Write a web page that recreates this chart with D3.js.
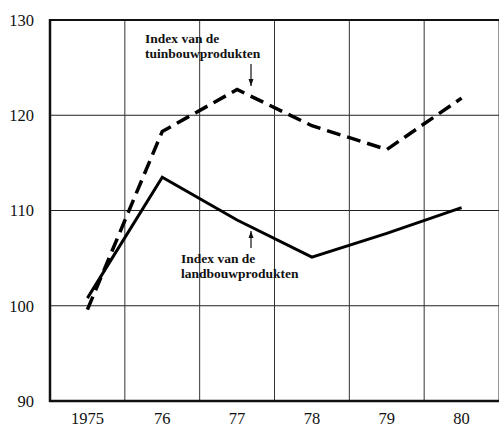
<!DOCTYPE html>
<html><head><meta charset="utf-8">
<script src="https://cdn.jsdelivr.net/npm/d3@7"></script>
<style>
html,body{margin:0;padding:0;background:#fff;}
svg{display:block;}
text{font-family:"Liberation Serif","Times New Roman",serif;fill:#111;}
</style></head>
<body>
<script>
const years = ["1975","76","77","78","79","80"];
const yTicks = [90,100,110,120,130];
const landbouw = [100.8,113.5,109.0,105.1,107.6,110.3];
const tuinbouw = [99.6,118.3,122.7,118.9,116.4,121.8];
const labelTuin = ["Index van de","tuinbouwprodukten"];
const labelLand = ["Index van de","landbouwprodukten"];

const W=499,H=427;
const svg=d3.select("body").append("svg").attr("width",W).attr("height",H);
const x=d3.scaleBand().domain(years).range([50,499]).paddingInner(0).paddingOuter(0);
const y=d3.scaleLinear().domain([90,130]).range([401,20]);

// grid
const g=svg.append("g");
yTicks.forEach(t=>{
  g.append("line").attr("x1",50).attr("x2",499).attr("y1",y(t)).attr("y2",y(t))
   .attr("stroke","#222").attr("stroke-width",1);
});
const bounds=years.map(d=>x(d)).concat([x(years[years.length-1])+x.bandwidth()]);
bounds.forEach(b=>{
  g.append("line").attr("x1",b).attr("x2",b).attr("y1",y(130)).attr("y2",y(90))
   .attr("stroke","#333").attr("stroke-width",1);
});
// frame
g.append("line").attr("x1",49).attr("x2",499).attr("y1",y(130)).attr("y2",y(130)).attr("stroke","#111").attr("stroke-width",2);
g.append("line").attr("x1",49).attr("x2",499).attr("y1",y(90)).attr("y2",y(90)).attr("stroke","#111").attr("stroke-width",2.5);
g.append("line").attr("x1",50).attr("x2",50).attr("y1",y(130)-1).attr("y2",y(90)+1).attr("stroke","#111").attr("stroke-width",2.5);

// y labels
svg.append("g").selectAll("text").data(yTicks).join("text")
  .attr("x",34).attr("y",d=>y(d)).attr("dy","0.35em").attr("text-anchor","end")
  .style("font-size","16.5px").text(d=>d);
// x labels
svg.append("g").selectAll("text").data(years).join("text")
  .attr("x",d=>x(d)+x.bandwidth()/2).attr("y",418).attr("dy","0.35em").attr("text-anchor","middle")
  .style("font-size","16.5px").text(d=>d);

const line=d3.line().x((d,i)=>x(years[i])+x.bandwidth()/2).y(d=>y(d));
svg.append("path").attr("d",line(landbouw)).attr("fill","none").attr("stroke","#000")
  .attr("stroke-width",3).attr("stroke-linejoin","miter");
svg.append("path").attr("d",line(tuinbouw)).attr("fill","none").attr("stroke","#000")
  .attr("stroke-width",3.5).attr("stroke-dasharray","14,7").attr("stroke-linejoin","miter");

// annotations
function label(lines,x0,y0){
  const t=svg.append("text").attr("x",x0).attr("y",y0).style("font-size","13.5px").style("font-weight","bold");
  lines.forEach((s,i)=>t.append("tspan").attr("x",x0).attr("dy",i?15:0).text(s));
}
label(labelTuin,145,43);
label(labelLand,181,263);

function arrow(x0,y1,y2){
  svg.append("line").attr("x1",x0).attr("x2",x0).attr("y1",y1).attr("y2",y2).attr("stroke","#111").attr("stroke-width",1.2);
  const dir=y2>y1?1:-1;
  svg.append("path").attr("d",`M${x0-2.5},${y2-dir*7}L${x0},${y2}L${x0+2.5},${y2-dir*7}Z`).attr("fill","#111");
}
arrow(251,64,86);
arrow(251,248,231);
</script>
</body></html>
